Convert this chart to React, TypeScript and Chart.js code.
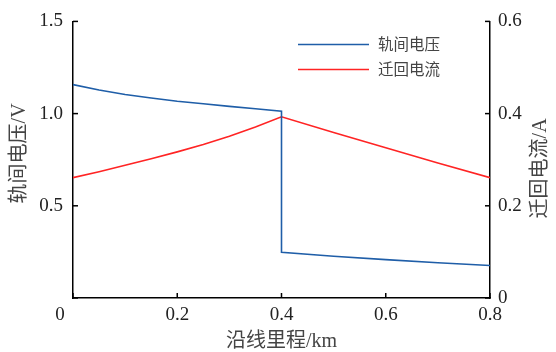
import React, { useEffect, useRef } from "react";
import { Chart, registerables } from "chart.js";

Chart.register(...registerables);

// Distance along the line (km)
const voltageDistance = [0, 0.05, 0.1, 0.15, 0.2, 0.25, 0.3, 0.35, 0.4, 0.4, 0.5, 0.6, 0.7, 0.8];
// Rail-to-rail voltage (V)
const voltageValues = [1.157, 1.128, 1.104, 1.085, 1.067, 1.053, 1.039, 1.026, 1.013, 0.248, 0.226, 0.208, 0.191, 0.176];

const currentDistance = [0, 0.05, 0.1, 0.15, 0.2, 0.25, 0.3, 0.35, 0.4, 0.5, 0.6, 0.7, 0.8];
// Return current (A)
const currentValues = [0.261, 0.274, 0.288, 0.302, 0.317, 0.333, 0.351, 0.371, 0.393, 0.359, 0.326, 0.293, 0.261];

const xTicks = [0, 0.2, 0.4, 0.6, 0.8];
const leftTicks = [0, 0.5, 1.0, 1.5];
const rightTicks = [0, 0.2, 0.4, 0.6];

const seriesNames = ["轨间电压", "迁回电流"];
const xTitle = "沿线里程/km";
const leftTitle = "轨间电压/V";
const rightTitle = "迁回电流/A";

const SERIF = "'Liberation Serif', 'Times New Roman', 'Noto Sans CJK SC', serif";
const TITLE_FONT = "20px 'Liberation Serif', 'Noto Sans CJK SC', serif";

const decorPlugin = {
  id: "decor",
  afterDraw(chart: any) {
    const ctx = chart.ctx;
    const area = chart.chartArea;
    ctx.save();
    // inward tick marks
    ctx.strokeStyle = "#000";
    ctx.lineWidth = 1.5;
    const sx = chart.scales.x;
    const sy = chart.scales.y;
    const sy1 = chart.scales.y1;
    xTicks.forEach((v) => {
      const px = sx.getPixelForValue(v);
      ctx.beginPath();
      ctx.moveTo(px, area.bottom);
      ctx.lineTo(px, area.bottom - 5);
      ctx.stroke();
    });
    leftTicks.forEach((v) => {
      const py = sy.getPixelForValue(v);
      ctx.beginPath();
      ctx.moveTo(area.left, py);
      ctx.lineTo(area.left + 5, py);
      ctx.stroke();
    });
    rightTicks.forEach((v) => {
      const py = sy1.getPixelForValue(v);
      ctx.beginPath();
      ctx.moveTo(area.right, py);
      ctx.lineTo(area.right - 5, py);
      ctx.stroke();
    });

    // shared origin label
    ctx.fillStyle = "#222";
    ctx.font = "19px " + SERIF;
    ctx.textAlign = "center";
    ctx.textBaseline = "middle";
    ctx.fillText("0", area.left - 13, area.bottom + 17);

    // axis titles
    ctx.font = TITLE_FONT;
    ctx.fillStyle = "#444";
    ctx.fillText(xTitle, (area.left + area.right) / 2, area.bottom + 44);

    ctx.save();
    ctx.translate(20, area.top + 132);
    ctx.rotate(-Math.PI / 2);
    ctx.fillText(leftTitle, 0, 0);
    ctx.restore();

    ctx.save();
    ctx.translate(541, area.top + 147);
    ctx.rotate(-Math.PI / 2);
    ctx.fillText(rightTitle, 0, 0);
    ctx.restore();

    // legend
    const lx0 = area.left + 225;
    const lx1 = area.left + 296;
    const rows = [area.top + 23, area.top + 48];
    chart.data.datasets.forEach((ds: any, i: number) => {
      ctx.strokeStyle = ds.borderColor;
      ctx.lineWidth = 1.5;
      ctx.beginPath();
      ctx.moveTo(lx0, rows[i]);
      ctx.lineTo(lx1, rows[i]);
      ctx.stroke();
      ctx.fillStyle = "#444";
      ctx.font = "15.5px 'Noto Sans CJK SC', sans-serif";
      ctx.textAlign = "left";
      ctx.textBaseline = "middle";
      ctx.fillText(ds.label, lx1 + 9, rows[i]);
    });
    ctx.restore();
  },
};

export default function App() {
  const ref = useRef<HTMLCanvasElement | null>(null);
  useEffect(() => {
    document.body.style.margin = "0";
    if (!ref.current) return;
    const chart = new Chart(ref.current, {
      type: "line",
      data: {
        datasets: [
          {
            label: seriesNames[0],
            data: voltageDistance.map((x, i) => ({ x, y: voltageValues[i] })),
            borderColor: "#1f5ea8",
            borderWidth: 1.6,
            pointRadius: 0,
            tension: 0,
            yAxisID: "y",
            fill: false,
          },
          {
            label: seriesNames[1],
            data: currentDistance.map((x, i) => ({ x, y: currentValues[i] })),
            borderColor: "#ff2424",
            borderWidth: 1.6,
            pointRadius: 0,
            tension: 0,
            yAxisID: "y1",
            fill: false,
          },
        ],
      },
      options: {
        responsive: false,
        animation: false,
        layout: { padding: { top: 20, left: 0, right: 0, bottom: 0 } },
        plugins: { legend: { display: false }, tooltip: { enabled: false } },
        scales: {
          x: {
            type: "linear",
            min: 0,
            max: 0.8,
            afterBuildTicks: (s: any) => {
              s.ticks = xTicks.map((v) => ({ value: v }));
            },
            afterFit: (s: any) => {
              s.height = 54;
            },
            grid: { display: true, drawOnChartArea: false, drawTicks: false },
            border: { display: true, color: "#000", width: 1.5 },
            ticks: {
              padding: 6,
              color: "#222",
              font: { family: SERIF, size: 19 },
              maxRotation: 0,
              autoSkip: false,
              callback: (v: any) => (v === 0 ? "" : String(v)),
            },
          },
          y: {
            type: "linear",
            position: "left",
            min: 0,
            max: 1.5,
            afterBuildTicks: (s: any) => {
              s.ticks = leftTicks.map((v) => ({ value: v }));
            },
            afterFit: (s: any) => {
              s.width = 73;
            },
            grid: { display: true, drawOnChartArea: false, drawTicks: false },
            border: { display: true, color: "#000", width: 1.5 },
            ticks: {
              padding: 10,
              color: "#222",
              font: { family: SERIF, size: 19 },
              callback: (v: any) => (v === 0 ? "" : Number(v).toFixed(1)),
            },
          },
          y1: {
            type: "linear",
            position: "right",
            min: 0,
            max: 0.6,
            afterBuildTicks: (s: any) => {
              s.ticks = rightTicks.map((v) => ({ value: v }));
            },
            afterFit: (s: any) => {
              s.width = 66;
            },
            grid: { display: true, drawOnChartArea: false, drawTicks: false },
            border: { display: true, color: "#000", width: 1.5 },
            ticks: {
              padding: 8,
              color: "#222",
              font: { family: SERIF, size: 19 },
              callback: (v: any) => (v === 0 ? "0" : Number(v).toFixed(1)),
            },
          },
        },
      },
      plugins: [decorPlugin],
    } as any);
    return () => chart.destroy();
  }, []);
  return (
    <div style={{ position: "fixed", left: 0, top: 0, width: 556, height: 352, background: "#fff" }}>
      <canvas ref={ref} width={556} height={352} style={{ width: 556, height: 352 }} />
    </div>
  );
}
